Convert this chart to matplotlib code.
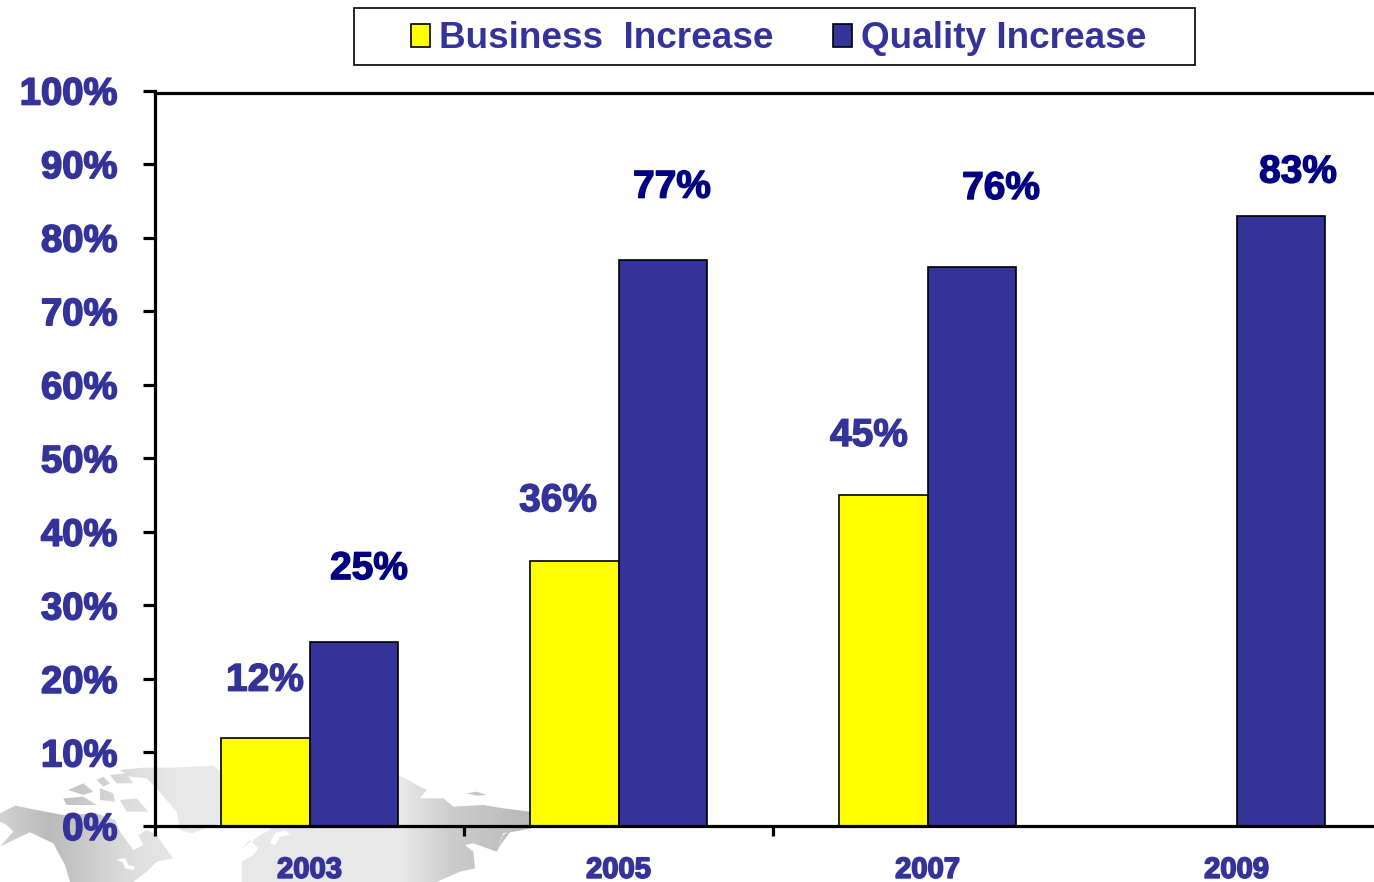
import numpy as np
import matplotlib
matplotlib.use("Agg")
import matplotlib.pyplot as plt
import matplotlib.patheffects as pe
from matplotlib.path import Path
from matplotlib.patches import PathPatch, Rectangle, Polygon

years = ["2003", "2005", "2007", "2009"]
business = [12, 36, 45, np.nan]
quality = [25, 77, 76, 83]
yticks = list(range(0, 101, 10))

W, H = 1374, 882
BLUE = "#333399"
NAVY = "#000080"
plt.rcParams["font.family"] = ["Liberation Sans", "DejaVu Sans"]

fig = plt.figure(figsize=(W / 100, H / 100), dpi=100, facecolor="white")

bg = fig.add_axes([0, 0, 1, 1], zorder=0)
bg.set_xlim(0, W); bg.set_ylim(H, 0); bg.axis("off")
gx = [0, 50, 133, 180, 400, 450, 530, 560, 1374]
gv = [0.82, 0.73, 0.87, 0.91, 0.91, 0.80, 0.72, 0.90, 0.90]
grad = np.interp(np.arange(W), gx, gv)[None, :]
im = bg.imshow(grad, extent=(0, W, H, 0), cmap="gray", vmin=0, vmax=1, aspect="auto")

left_crop = [
    [(0,175),(45,152),(110,165),(190,180),(290,175),(345,195),(360,230),(400,285),(430,270),(415,240),
     (440,225),(470,240),(490,270),(520,310),(470,320),(440,350),(400,381),(210,381),(195,330),(160,265),
     (90,232),(50,250),(0,275),(40,230),(20,210),(0,200)],
    [(205,105),(250,85),(280,110),(250,120)],
    [(190,130),(250,125),(290,150),(200,150)],
    [(300,100),(340,115),(345,140),(300,135)],
    [(330,60),(380,55),(400,85),(350,85)],
    [(360,135),(410,130),(445,170),(380,170)],
    [(290,75),(310,65),(330,85),(310,95)],
    [(360,45),(430,38),(520,38),(640,32),(660,48),(660,205),(575,235),(540,225),(530,170),(495,130),
     (470,100),(440,70),(390,65)],
    [(720,285),(750,255),(775,280),(760,300),(725,320),(725,381),(810,381),(810,225),(780,240)],
]
right_crop = [
    [(0,215),(780,215),(700,235),(680,290),(610,265),(585,270),(610,290),(615,340),(570,350),(500,381),(0,381)],
    [(385,60),(415,75),(440,90),(470,105),(450,130),(520,130),(550,155),(640,150),(700,160),(780,170),
     (790,215),(385,215)],
    [(590,115),(620,110),(650,120),(620,122)],
    [(680,290),(700,240),(740,215),(810,215),(720,232),(695,265)],
]
holes_left = [[(350,314),(375,308),(385,330),(405,335),(400,345),(375,340),(368,322)]]
holes_right = [[(0,265),(15,235),(45,225),(60,240),(30,245),(15,270)]]

verts, codes = [], []
def add(shapes, x0):
    for s in shapes:
        pts = [(x0 + x / 3, 755 + y / 3) for x, y in s]
        a = sum(p[0] * q[1] - q[0] * p[1] for p, q in zip(pts, pts[1:] + pts[:1]))
        if a < 0:
            pts = pts[::-1]
        verts.extend(pts + [pts[0]])
        codes.extend([Path.MOVETO] + [Path.LINETO] * (len(pts) - 1) + [Path.CLOSEPOLY])
add(left_crop, 0)
add(right_crop, 270)
clip = PathPatch(Path(verts, codes), transform=bg.transData, fc="none", ec="none")
bg.add_patch(clip)
im.set_clip_path(clip)
for s, x0 in [(holes_left[0], 0), (holes_right[0], 270)]:
    bg.add_patch(Polygon([(x0 + x / 3, 755 + y / 3) for x, y in s], fc="white", ec="none"))

# Main chart: the value scale reaches 100% two pixels above the drawn top rule
ax = fig.add_axes([155 / W, 1 - 826 / H, (W - 155) / W, 735.5 / H], zorder=1)
ax.patch.set_alpha(0)
x = np.arange(len(years))
bw = 0.288
b1 = ax.bar(x - bw / 2, business, bw, color="#FFFF00", edgecolor="black", linewidth=1.2, label="Business  Increase")
b2 = ax.bar(x + bw / 2, quality, bw, color=BLUE, edgecolor="black", linewidth=1.2, label="Quality Increase")
ax.set_xlim(-0.5, (W - 155) / 309 - 0.5)
ax.set_ylim(0, 100)

for s in ("top", "left", "bottom"):
    ax.spines[s].set_linewidth(2.3)
ax.spines["right"].set_visible(False)
ax.spines["top"].set_position(("data", 99.7))

stroke = [pe.withStroke(linewidth=1.2, foreground=BLUE)]
ax.set_yticks(yticks)
ax.set_yticklabels([f"{v}%" for v in yticks], fontsize=27.5, fontweight="bold", color=BLUE, path_effects=stroke)
ax.tick_params(axis="y", length=9, width=2.3, pad=18)
ax.set_xticks(x[:-1] - 0.5)
ax.set_xticklabels([])
ax.tick_params(axis="x", which="major", length=7.5, width=2.3)
ax.set_xticks(x, minor=True)
ax.set_xticklabels(years, minor=True, fontsize=21, fontweight="bold", color=BLUE, path_effects=stroke)
ax.tick_params(axis="x", which="minor", length=0, pad=21.5)

# Data labels: (dx, dy) pixel offsets of each label centre from its bar top
biz_off = [(0, 57), (-16, 60), (-14, 59), None]
qual_off = [(15, 73), (9, 72), (29, 78), (17, 43)]
def label(bars, vals, offs, col):
    for r, v, o in zip(bars, vals, offs):
        if o is None or np.isnan(v):
            continue
        ax.annotate(f"{v}%", (r.get_x() + r.get_width() / 2, v),
                    xytext=(o[0] * 0.72, o[1] * 0.72), textcoords="offset points",
                    ha="center", va="center", fontsize=28, fontweight="bold", color=col,
                    path_effects=[pe.withStroke(linewidth=1.0, foreground=col)], zorder=5)
label(b1, business, biz_off, BLUE)
label(b2, quality, qual_off, NAVY)

# Legend frame is wider than its content in the reference
frame = fig.add_axes([0, 0, 1, 1], zorder=2)
frame.set_xlim(0, W); frame.set_ylim(H, 0); frame.axis("off")
frame.add_patch(Rectangle((353.5, 8), 841, 57, fc="white", ec="black", lw=1.2))
leg = frame.legend(handles=[b1, b2], loc="center", ncols=2,
                   bbox_to_anchor=(358 / W, 1 - 67.5 / H, 842 / W, 57 / H),
                   bbox_transform=fig.transFigure,
                   frameon=False, prop={"size": 26.6, "weight": "bold"}, labelcolor=BLUE,
                   handlelength=0.51, handleheight=0.57, handletextpad=0.24,
                   columnspacing=1.62, borderaxespad=0, borderpad=0.3)

fig.savefig("out.png", dpi=100)
